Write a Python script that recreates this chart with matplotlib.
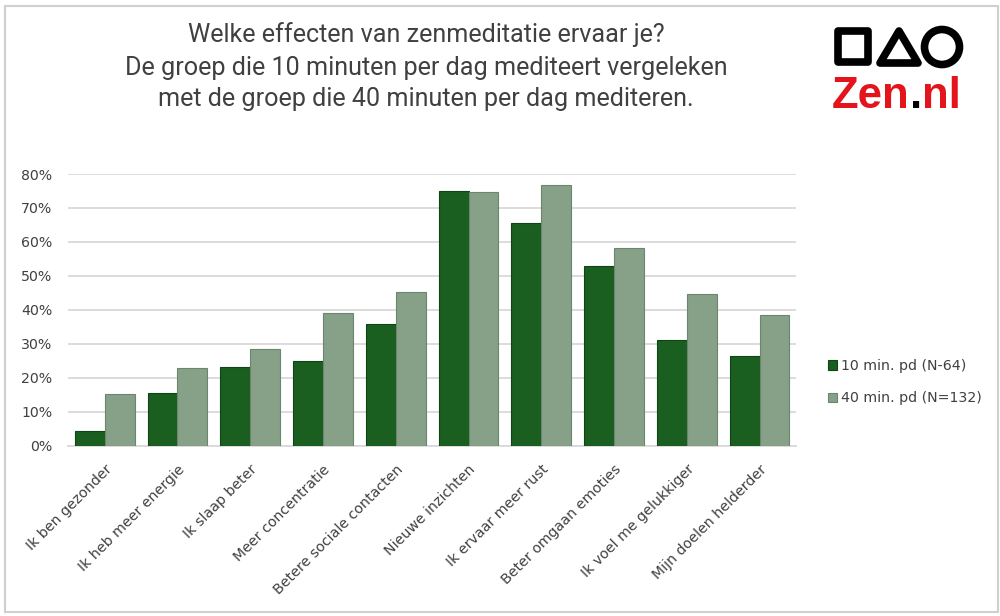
import matplotlib
matplotlib.use("Agg")
import matplotlib.pyplot as plt
import numpy as np
from matplotlib.patches import Rectangle, Polygon, Circle

categories = ["Ik ben gezonder", "Ik heb meer energie", "Ik slaap beter",
              "Meer concentratie", "Betere sociale contacten", "Nieuwe inzichten",
              "Ik ervaar meer rust", "Beter omgaan emoties", "Ik voel me gelukkiger",
              "Mijn doelen helderder"]
series_10 = [4.4, 15.4, 23.3, 24.8, 35.8, 74.9, 65.5, 53.0, 31.0, 26.3]
series_40 = [15.1, 22.8, 28.4, 39.0, 45.2, 74.6, 76.8, 58.3, 44.6, 38.4]
series_names = ["10 min. pd (N-64)", "40 min. pd (N=132)"]
yticks = [0, 10, 20, 30, 40, 50, 60, 70, 80]
title_lines = ["Welke effecten van zenmeditatie ervaar je?",
               "De groep die 10 minuten per dag mediteert vergeleken",
               "met de groep die 40 minuten per dag mediteren."]

FONT = "Roboto"
SMALL = "DejaVu Sans"
TXT = "#404040"
DARK = "#1a5e20"
LIGHT = "#87a088"

fig = plt.figure(figsize=(10, 6.16), dpi=100)
fig.patch.set_facecolor("white")

# outer border
fig.add_artist(Rectangle((5/1000, 1-612/616), 993/1000, 606/616, transform=fig.transFigure,
                         fill=False, edgecolor="#cfcfcf", linewidth=1.5))

ax = fig.add_axes([0.0683, 1-445.7/616, 0.796-0.0683, (445.7-174)/616])
x = np.arange(len(categories))
w = 0.41
ax.bar(x - w/2, series_10, w, color=DARK, edgecolor="#0f4414", linewidth=0.8,
       label=series_names[0], zorder=3)
ax.bar(x + w/2, series_40, w, color=LIGHT, edgecolor="#6c856e", linewidth=0.8,
       label=series_names[1], zorder=3)
ax.set_xlim(-0.5, len(categories) - 0.5)
ax.set_ylim(0, 80)
ax.set_yticks(yticks)
ax.set_yticklabels([f"{v}%" for v in yticks], fontsize=10.2, color=TXT, family=SMALL)
ax.yaxis.grid(True, color="#d9d9d9", linewidth=1.3, zorder=0)
ax.set_xticks(x)
ax.set_xticklabels(categories, rotation=45, ha="right", rotation_mode="anchor",
                   fontsize=10.2, color=TXT, family=SMALL)
ax.tick_params(axis="both", length=0)
ax.tick_params(axis="x", pad=12)
ax.tick_params(axis="y", pad=11.5)
for s in ["left", "right", "top"]:
    ax.spines[s].set_visible(False)
ax.spines["bottom"].set_color("#d9d9d9")
ax.spines["bottom"].set_linewidth(1.3)

leg = fig.legend(loc="center left", bbox_to_anchor=(0.815, 1-382/616), frameon=False,
                 prop={"family": SMALL, "size": 10.2}, handlelength=0.65, handleheight=0.65,
                 handletextpad=0.3, labelspacing=1.3)
for t in leg.get_texts():
    t.set_color(TXT)

# logo / title overlay axes in pixel coordinates
lax = fig.add_axes([0, 0, 1, 1], facecolor="none")
lax.set_xlim(0, 1000)
lax.set_ylim(616, 0)
lax.axis("off")

for by, line in zip([42, 75, 106], title_lines):
    lax.text(426, by, line, ha="center", va="baseline", fontsize=18.1, color=TXT,
             family=FONT)

lax.add_patch(Rectangle((838, 31), 30, 31, fill=False, edgecolor="black", linewidth=5.5,
                        joinstyle="round"))
lax.add_patch(Polygon([(899, 31), (880, 63), (918, 63)], closed=True, fill=False,
                      edgecolor="black", linewidth=5.5, joinstyle="round"))
lax.add_patch(Circle((942, 47), 17.5, fill=False, edgecolor="black", linewidth=5.5))
t1 = lax.text(832, 108, "Zen", color="#e3141b", fontsize=31.5, fontweight="bold",
              family="Liberation Sans", va="baseline", ha="left")
t2 = lax.annotate(".", xycoords=t1, xy=(1, 0), va="bottom", color="black", fontsize=31.5,
                  fontweight="bold", family="Liberation Sans")
t3 = lax.annotate("nl", xycoords=t2, xy=(1, 0), va="bottom", color="#e3141b", fontsize=31.5,
                  fontweight="bold", family="Liberation Sans")

fig.savefig("out.png", dpi=100, facecolor="white")
